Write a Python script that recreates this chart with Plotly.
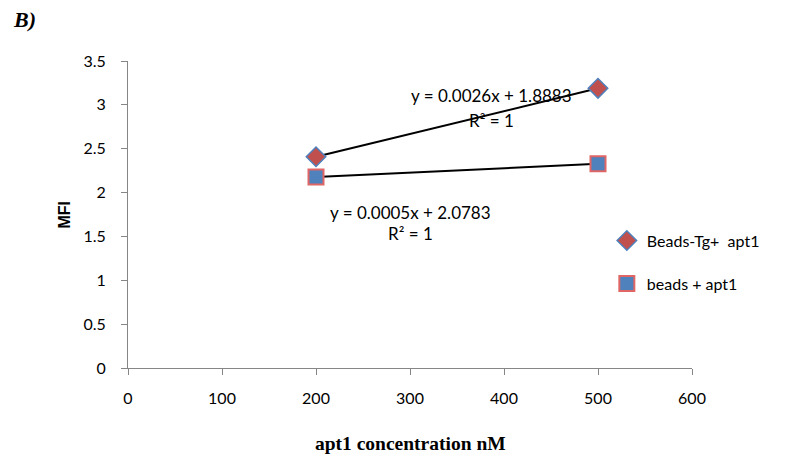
import plotly.graph_objects as go

conc = [200, 500]
tg_mfi = [2.4083, 3.1883]
beads_mfi = [2.1783, 2.3283]
series_names = ["Beads-Tg+  apt1", "beads + apt1"]
eq_tg = ["y = 0.0026x + 1.8883", "R² = 1"]
eq_beads = ["y = 0.0005x + 2.0783", "R² = 1"]
x_ticks = [0, 100, 200, 300, 400, 500, 600]
y_ticks = [0, 0.5, 1, 1.5, 2, 2.5, 3, 3.5]

FONT = "Lato, 'Open Sans', sans-serif"

fig = go.Figure()
# trendlines
fig.add_trace(go.Scatter(x=conc, y=tg_mfi, mode="lines", line=dict(color="black", width=2),
                         showlegend=False, hoverinfo="skip"))
fig.add_trace(go.Scatter(x=conc, y=beads_mfi, mode="lines", line=dict(color="black", width=2),
                         showlegend=False, hoverinfo="skip"))
# data points
fig.add_trace(go.Scatter(x=conc, y=tg_mfi, mode="markers", name=series_names[0],
                         marker=dict(symbol="diamond", size=15, color="#C0504D",
                                     line=dict(color="#4F81BD", width=1.5)),
                         legend="legend"))
fig.add_trace(go.Scatter(x=conc, y=beads_mfi, mode="markers", name=series_names[1],
                         marker=dict(symbol="square", size=15, color="#4F81BD",
                                     line=dict(color="#E06666", width=2)),
                         legend="legend2"))

eq_font = dict(family=FONT, size=17, color="black")
fig.add_annotation(x=387, y=3.112, text=eq_tg[0], showarrow=False, xref="x", yref="y", font=eq_font)
fig.add_annotation(x=387, y=2.827, text=eq_tg[1], showarrow=False, xref="x", yref="y", font=eq_font)
fig.add_annotation(x=301, y=1.778, text=eq_beads[0], showarrow=False, xref="x", yref="y", font=eq_font)
fig.add_annotation(x=301, y=1.539, text=eq_beads[1], showarrow=False, xref="x", yref="y", font=eq_font)

# panel label
fig.add_annotation(text="<b><i>B)</i></b>", x=(11 - 128) / 564, y=(368 - 20) / 307,
                   xref="paper", yref="paper", showarrow=False,
                   font=dict(family="'Liberation Serif', serif", size=22, color="black"),
                   xanchor="left", yanchor="middle")
# axis titles
fig.add_annotation(text="<b>apt1 concentration nM</b>", x=0.5, y=(368 - 443) / 307,
                   xref="paper", yref="paper", showarrow=False,
                   font=dict(family="'Liberation Serif', serif", size=19.5, color="black"),
                   xanchor="center", yanchor="middle")
fig.add_annotation(text="<b>MFI</b>", x=(64 - 128) / 564, y=0.5, textangle=-90,
                   xref="paper", yref="paper", showarrow=False,
                   font=dict(family="'Liberation Sans', Arial, sans-serif", size=16, color="black"),
                   xanchor="center", yanchor="middle")

axis_common = dict(showline=True, linecolor="#868686", linewidth=1, ticks="outside",
                   tickcolor="#868686", ticklen=6, showgrid=False, zeroline=False,
                   tickfont=dict(family=FONT, size=16, color="black"))

fig.update_layout(
    width=787, height=467,
    margin=dict(l=128, r=95, t=61, b=99, autoexpand=False),
    plot_bgcolor="white", paper_bgcolor="white",
    xaxis=dict(range=[0, 600], tickvals=x_ticks, ticklabelstandoff=10, **axis_common),
    yaxis=dict(range=[0, 3.5], tickvals=y_ticks, ticklabelstandoff=12, **axis_common),
    legend=dict(x=0.849, y=0.415, xanchor="left", yanchor="middle", bgcolor="rgba(0,0,0,0)",
                font=dict(family=FONT, size=16, color="black"), itemwidth=30),
    legend2=dict(x=0.849, y=0.275, xanchor="left", yanchor="middle", bgcolor="rgba(0,0,0,0)",
                 font=dict(family=FONT, size=16, color="black"), itemwidth=30),
)

fig.write_html("out.html")
